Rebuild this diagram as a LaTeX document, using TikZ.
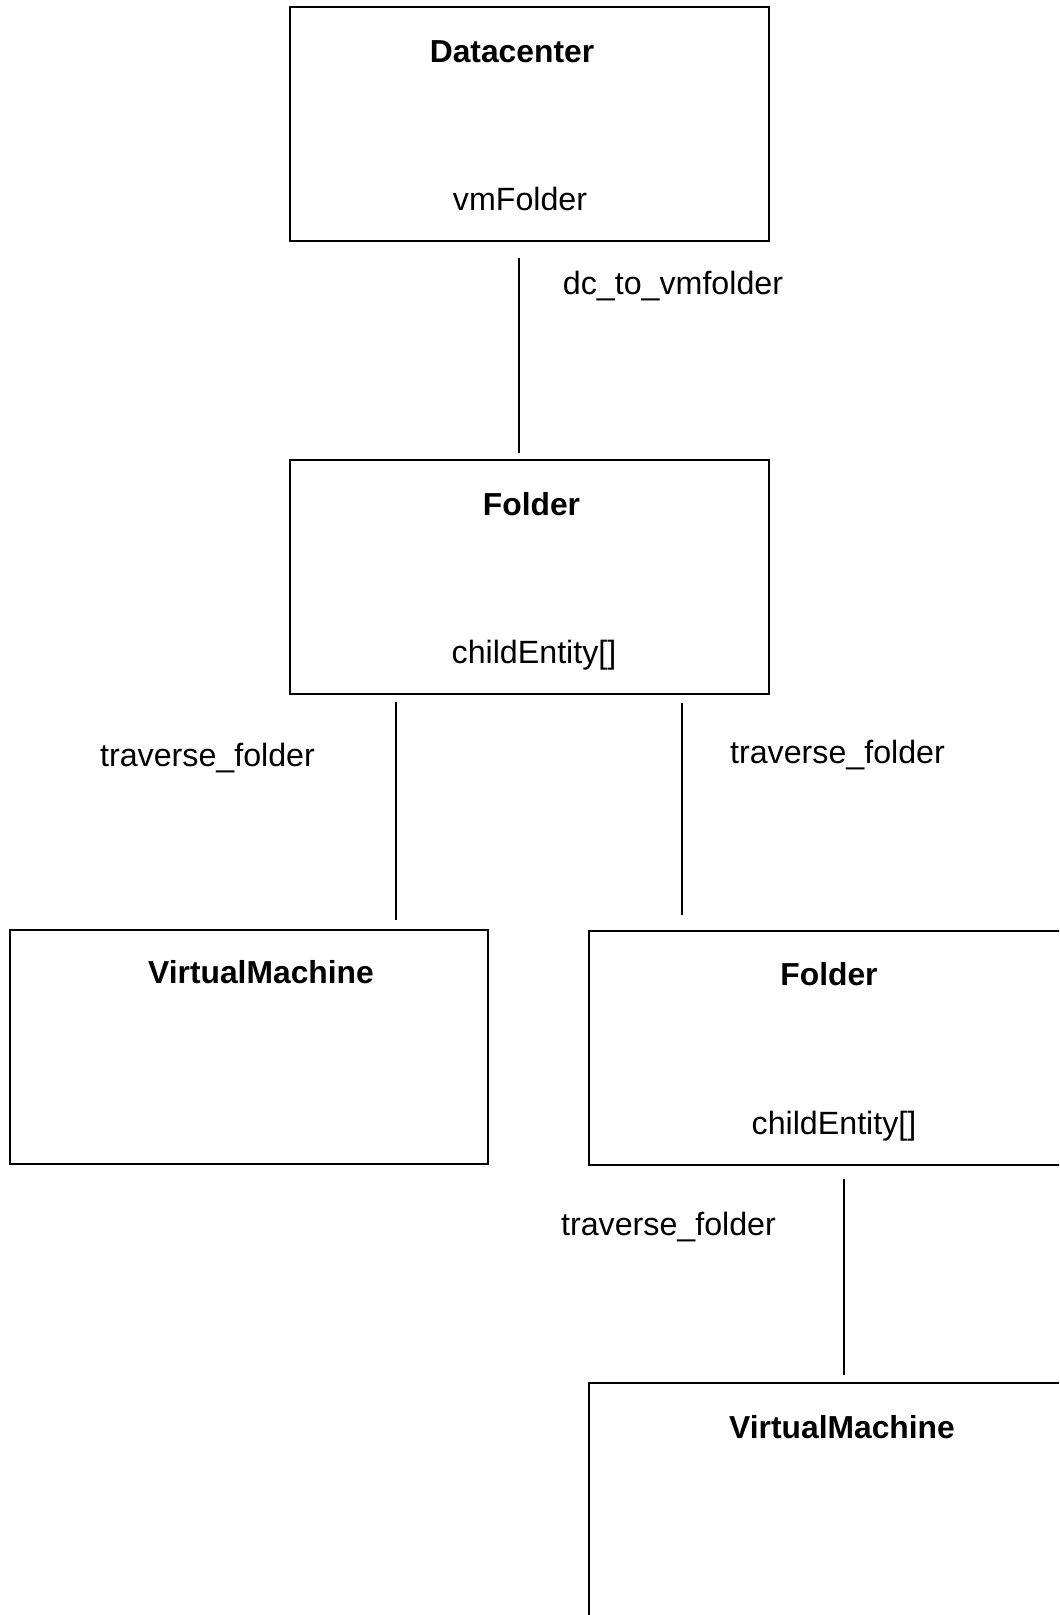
\documentclass[tikz,border=0pt]{standalone}
\usepackage{fontspec}
\setmainfont{Liberation Sans}
\begin{document}
\begin{tikzpicture}[x=0.5pt,y=-0.5pt,
  box/.style={draw, line width=1pt, minimum width=239.5pt, minimum height=117pt, inner sep=0pt, outer sep=0pt},
  txt/.style={inner sep=0pt, anchor=base, font=\fontsize{16.1}{19}\selectfont},
  ttl/.style={txt, font=\fontsize{15.9}{19}\selectfont\bfseries},
  conn/.style={line width=0.7pt}]
\useasboundingbox (0,0) rectangle (1059,1615);
\clip (0,0) rectangle (1059,1615);
% boxes
\node[box] (dc) at (529.5,124) {};
\node[box] (f1) at (529.5,577) {};
\node[box, minimum width=239pt] (vm1) at (249,1046.5) {};
\node[box] (f2) at (828.5,1048) {};
\node[box] (vm2) at (828.5,1500) {};
% box texts
\node[ttl] (dct) at (512,63) {Datacenter};
\node[txt] (dcs) at (520,211) {vmFolder};
\node[ttl] (f1t) at (531.5,515) {Folder};
\node[txt] (f1s) at (534,663) {childEntity[]};
\node[ttl] (vm1t) at (261,983) {VirtualMachine};
\node[ttl] (f2t) at (829,985) {Folder};
\node[txt] (f2s) at (834,1134) {childEntity[]};
\node[ttl] (vm2t) at (842,1438) {VirtualMachine};
% connector ends
\coordinate (a1) at (519,258);  \coordinate (b1) at (519,453);
\coordinate (a2) at (396,702);  \coordinate (b2) at (396,920);
\coordinate (a3) at (682,703);  \coordinate (b3) at (682,915);
\coordinate (a4) at (844,1179); \coordinate (b4) at (844,1375);
\draw[conn] (a1) -- (b1);
\draw[conn] (a2) -- (b2);
\draw[conn, line width=0.6pt] (a3) -- (b3);
\draw[conn] (a4) -- (b4);
% connector labels
\node[txt] (l1) at (673,295) {dc\_to\_vmfolder};
\node[txt] (l2) at (207.5,766) {traverse\_folder};
\node[txt] (l3) at (837.5,763) {traverse\_folder};
\node[txt] (l4) at (668.5,1235) {traverse\_folder};
\end{tikzpicture}
\end{document}
